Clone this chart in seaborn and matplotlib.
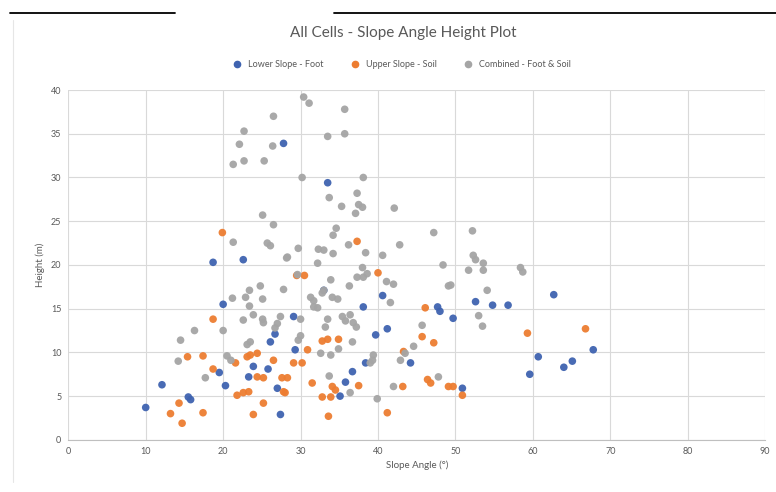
import seaborn as sns
import matplotlib.pyplot as plt
import pandas as pd
from matplotlib.lines import Line2D

# series names and colours
series = ["Lower Slope - Foot", "Upper Slope - Soil", "Combined - Foot & Soil"]
colors = ["#3F63B0", "#ED7D31", "#A5A5A5"]

# Lower Slope - Foot
lower_x = [10.0, 12.1, 15.5, 15.8, 18.7, 20.0, 19.5, 20.3, 22.6, 23.9,
           23.3, 25.8, 26.7, 26.1, 27.0, 27.4, 27.8, 29.1, 29.3, 33.5,
           33.0, 38.1, 40.6, 39.7, 41.2, 38.4, 44.2, 36.7, 35.8, 35.1,
           47.7, 48.0, 49.7, 50.9, 52.6, 54.8, 56.8, 62.7, 67.8, 60.7,
           59.6, 64.0, 65.1]
lower_y = [3.7, 6.3, 4.9, 4.6, 20.3, 15.5, 7.7, 6.2, 20.6, 8.4,
           7.2, 8.1, 12.1, 11.2, 5.9, 2.9, 33.9, 14.1, 10.3, 29.4,
           17.1, 15.2, 16.5, 12.0, 12.7, 8.8, 8.8, 7.8, 6.6, 5.0,
           15.2, 14.7, 13.9, 5.9, 15.8, 15.4, 15.4, 16.6, 10.3, 9.5,
           7.5, 8.3, 9.0]

# Upper Slope - Soil
upper_x = [13.2, 14.7, 14.3, 17.4, 15.4, 17.4, 18.7, 18.7, 19.9, 21.6,
           23.1, 23.5, 24.4, 24.4, 25.2, 21.8, 22.6, 23.3, 25.2, 23.9,
           27.6, 27.8, 26.5, 29.1, 29.5, 30.5, 30.9, 32.8, 33.5, 34.9,
           30.2, 31.5, 32.8, 33.6, 34.1, 34.5, 33.9, 37.5, 37.3, 40.0,
           41.2, 43.2, 43.3, 45.7, 47.2, 46.1, 46.4, 46.8, 49.1, 49.7,
           50.9, 59.3, 66.8, 28.3, 28.0]
upper_y = [3.0, 1.9, 4.2, 3.1, 9.5, 9.6, 13.8, 8.1, 23.7, 8.8,
           9.5, 9.7, 9.9, 7.2, 7.1, 5.1, 5.4, 5.5, 4.2, 2.9,
           7.1, 5.5, 9.1, 8.8, 18.8, 18.8, 10.3, 11.3, 11.5, 11.5,
           8.8, 6.5, 4.9, 2.7, 6.1, 5.7, 4.9, 6.2, 22.7, 19.1,
           3.1, 6.1, 10.1, 11.8, 11.1, 15.1, 6.9, 6.5, 6.1, 6.1,
           5.1, 12.2, 12.7, 7.1, 5.4]

# Combined - Foot & Soil
comb_x = [14.5, 16.3, 14.2, 17.7, 20.0, 20.5, 21.0, 21.3, 22.1, 22.7,
          22.7, 25.3, 26.4, 26.5, 25.1, 26.5, 21.3, 25.7, 26.1, 28.2,
          24.8, 27.8, 23.4, 22.9, 21.2, 25.1, 23.4, 23.9, 25.1, 25.2,
          22.6, 27.4, 27.0, 26.7, 30.0, 23.5, 23.1, 30.0, 29.7, 29.6,
          29.7, 30.4, 31.1, 35.7, 33.5, 35.7, 30.2, 38.1, 33.7, 35.3,
          37.3, 37.5, 38.0, 37.1, 42.1, 34.6, 34.2, 47.2, 52.2, 36.2,
          42.8, 32.3, 33.0, 34.2, 38.4, 40.6, 48.4, 32.2, 38.0, 37.3,
          38.1, 38.6, 33.9, 41.1, 42.0, 49.1, 36.3, 33.0, 32.8, 31.3,
          31.7, 34.1, 34.8, 41.6, 31.7, 32.2, 33.5, 33.2, 35.4, 36.4,
          35.8, 36.8, 37.2, 45.7, 44.6, 36.7, 32.6, 33.9, 39.4, 39.3,
          39.0, 43.5, 42.9, 34.9, 33.7, 36.4, 39.9, 42.0, 47.8, 52.3,
          52.6, 51.7, 49.4, 53.6, 53.6, 58.4, 58.7, 54.1, 53.0, 53.5,
          28.3]
comb_y = [11.4, 12.5, 9.0, 7.1, 12.5, 9.6, 9.1, 31.5, 33.8, 35.3,
          31.9, 31.9, 33.6, 37.0, 25.7, 24.6, 22.6, 22.5, 22.2, 20.8,
          17.6, 17.2, 17.1, 16.3, 16.2, 16.1, 15.3, 14.3, 13.8, 13.4,
          13.7, 14.1, 13.3, 12.8, 13.8, 11.2, 10.9, 11.9, 11.4, 18.9,
          21.9, 39.2, 38.5, 37.8, 34.7, 35.0, 30.0, 30.0, 27.7, 26.7,
          28.2, 26.9, 26.6, 25.9, 26.5, 24.2, 23.4, 23.7, 23.9, 22.3,
          22.3, 21.8, 21.7, 21.3, 21.4, 21.1, 20.0, 20.2, 19.7, 18.6,
          18.6, 19.0, 18.3, 18.1, 17.8, 17.6, 17.6, 17.1, 16.8, 16.3,
          15.9, 16.3, 16.1, 15.7, 15.2, 15.1, 13.8, 12.9, 14.1, 14.3,
          13.6, 13.4, 12.9, 13.1, 10.7, 11.2, 9.9, 9.7, 9.7, 9.1,
          8.8, 9.9, 9.1, 10.4, 7.3, 5.4, 4.7, 6.1, 7.2, 21.1,
          20.6, 19.4, 17.7, 20.2, 19.4, 19.7, 19.2, 17.1, 14.2, 13.0,
          20.9]

x_ticks = [0, 10, 20, 30, 40, 50, 60, 70, 80, 90]
y_ticks = [0, 5, 10, 15, 20, 25, 30, 35, 40]

df = pd.concat([
    pd.DataFrame({"angle": lower_x, "height": lower_y, "series": series[0]}),
    pd.DataFrame({"angle": upper_x, "height": upper_y, "series": series[1]}),
    pd.DataFrame({"angle": comb_x, "height": comb_y, "series": series[2]}),
])

sns.set_style("white")
plt.rcParams["font.family"] = ["Lato", "DejaVu Sans"]

fig = plt.figure(figsize=(7.76, 4.92), dpi=100)
ax = fig.add_axes([0.088, 0.106, 0.898, 0.711])

sns.scatterplot(data=df, x="angle", y="height", hue="series", hue_order=series,
                palette=colors, s=30, edgecolor="none", alpha=0.95,
                legend=False, ax=ax)

ax.set_xlim(0, 90)
ax.set_ylim(0, 40)
ax.set_xticks(x_ticks)
ax.set_yticks(y_ticks)
ax.grid(True, color="#D9D9D9", linewidth=0.8)
ax.set_axisbelow(True)
for side in ["top", "right", "left"]:
    ax.spines[side].set_visible(False)
ax.spines["bottom"].set_color("#BFBFBF")
ax.tick_params(axis="both", length=0, labelsize=6.5, labelcolor="#595959", pad=5)
ax.set_xlabel("Slope Angle (°)", fontsize=7, color="#595959", labelpad=3)
ax.set_ylabel("Height (m)", fontsize=7, color="#595959", labelpad=4)

fig.text(0.52, 0.932, "All Cells - Slope Angle Height Plot", ha="center",
         va="center", fontsize=11, color="#595959")

handles = [Line2D([], [], marker="o", linestyle="", color=c, markersize=4.5)
           for c in colors]
fig.legend(handles, series, loc="center", bbox_to_anchor=(0.515, 0.868), ncol=3,
           frameon=False, fontsize=6.5, handletextpad=0.2, columnspacing=2.5,
           labelcolor="#595959")

# scanned page edge at the top
fig.add_artist(Line2D([0.013, 0.225], [0.974, 0.974], color="black", linewidth=1.3))
fig.add_artist(Line2D([0.43, 1.0], [0.974, 0.974], color="black", linewidth=1.3))
fig.add_artist(Line2D([0.017, 0.017], [0.02, 0.96], color="#E6E6E6", linewidth=0.8))

fig.savefig("out.png", dpi=100)
